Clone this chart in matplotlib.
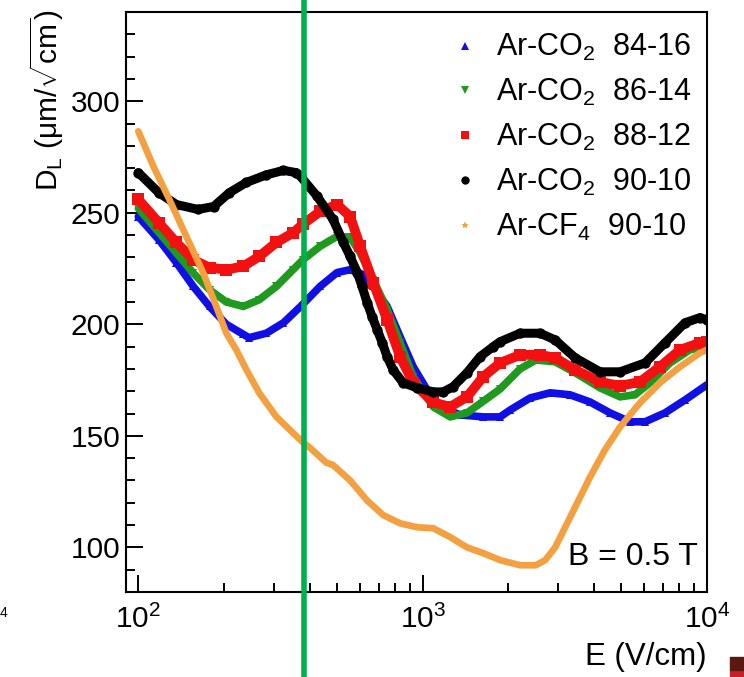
import matplotlib
matplotlib.use('Agg')
import matplotlib.pyplot as plt
from matplotlib.lines import Line2D
from matplotlib.patches import Rectangle
from matplotlib.ticker import MultipleLocator, LogLocator
import matplotlib.transforms as mtransforms

plt.rcParams['font.family'] = ['Liberation Sans', 'DejaVu Sans']
plt.rcParams['mathtext.fontset'] = 'custom'
plt.rcParams['mathtext.rm'] = 'Liberation Sans'
plt.rcParams['mathtext.it'] = 'Liberation Sans:italic'
plt.rcParams['mathtext.default'] = 'regular'

# Ar-CO2 84-16 (blue)
e_8416 = [100, 118, 136, 156, 178, 204, 234, 245, 282, 324, 372, 436, 500, 556, 618, 670, 750,
          833, 926, 1037, 1151, 1355, 1633, 1872, 2032, 2389, 2808, 3298, 3877, 4557, 5358,
          6056, 7118, 8369, 10000]
d_8416 = [248.3, 238, 227.7, 217, 208, 200, 195.5, 194, 196, 200.7, 208, 217, 223.2, 224.5,
          222.3, 217, 208, 194.4, 181, 170.6, 163, 159.4, 158.5, 158.5, 161.6, 167, 169.3,
          168.4, 165.2, 160.3, 156.3, 156.3, 160.3, 166.1, 172.9]

# Ar-CO2 86-14 (green)
e_8614 = [100, 136, 156, 178, 204, 234, 266, 306, 350, 380, 436, 500, 556, 603, 670, 750, 833,
          926, 1089, 1250, 1432, 1633, 1872, 2201, 2500, 2923, 3436, 4207, 4946, 5580, 6300,
          7413, 8710, 10000]
d_8614 = [252, 232, 223, 215.5, 210, 208, 211, 217, 224.5, 229, 235, 239.4, 239, 232, 220,
          206.6, 191.7, 176.5, 163, 158.5, 160.3, 165.5, 171, 180, 184, 183.2, 178.3, 171.5,
          167.5, 168.4, 173.8, 182.7, 188.6, 190]

# Ar-CO2 88-12 (red)
e_8812 = [100, 118, 136, 156, 178, 204, 234, 266, 306, 350, 380, 436, 500, 556, 603, 670, 750,
          833, 926, 1089, 1250, 1432, 1633, 1872, 2201, 2588, 2923, 3436, 4207, 4946, 5810,
          6833, 8044, 9447, 10000]
d_8812 = [256, 245.6, 236.7, 229, 225.4, 224.5, 226, 230.4, 236.7, 241, 245, 250.6, 253.7,
          248.3, 235, 218.7, 202, 185.5, 173.8, 165, 163, 167.5, 176.5, 182.7, 186.3, 186.3,
          185, 179.6, 174.2, 172.4, 174.2, 181, 188.6, 191.7, 192]

# Ar-CO2 90-10 (black)
e_9010 = [100, 118, 136, 162, 184, 209, 240, 282, 324, 359, 372, 426, 484, 526, 556, 589, 612,
          638, 664, 692, 721, 750, 787, 853, 957, 1089, 1180, 1279, 1432, 1592, 1771, 1872,
          2201, 2588, 2923, 3436, 4207, 4946, 6056, 7118, 8369, 9447, 10000]
d_9010 = [268, 259, 253.7, 251.5, 252.8, 259, 263.6, 267, 269, 268, 266.3, 257.3, 247, 236.7,
          230.4, 223.2, 217, 209.7, 203.4, 197.6, 191.7, 185.5, 179.6, 173.8, 171.5, 169.7,
          169.7, 172, 178.3, 185.5, 190, 192.2, 196, 196, 193, 185, 178.7, 178.7, 182.7,
          191.7, 200.7, 203, 202]

# Ar-CF4 90-10 (orange)
e_cf4 = [100, 113, 128.5, 147.5, 169, 188, 204, 221, 240, 266, 306, 350, 380, 402, 458, 484,
         556, 638, 726, 833, 957, 1089, 1250, 1432, 1633, 1872, 2201, 2500, 2698, 2923, 3170,
         3436, 3877, 4375, 4946, 5810, 6833, 8044, 9447, 10000]
d_cf4 = [286.5, 270.8, 256, 239.4, 223.2, 208, 196, 188.6, 179.6, 169.3, 158.5, 151.3, 147,
         144.6, 138, 136.9, 130, 121, 114.5, 110.8, 109, 108.6, 104.6, 100, 97.4, 94.3, 92, 92,
         94.3, 100, 109, 118, 131.5, 143.7, 154, 164.8, 173.8, 181, 187.2, 188.6]

series = [
    (e_8416, d_8416, '#1010e6', '^', 5.5, r'Ar-CO$_2$  84-16'),
    (e_8614, d_8614, '#1f9a1f', 'v', 5.5, r'Ar-CO$_2$  86-14'),
    (e_8812, d_8812, '#f21010', 's', 7.0, r'Ar-CO$_2$  88-12'),
    (e_9010, d_9010, '#000000', 'o', 6.5, r'Ar-CO$_2$  90-10'),
    (e_cf4, d_cf4, '#f5a040', '*', 4.8, r'Ar-CF$_4$  90-10'),
]

fig = plt.figure(figsize=(7.44, 6.77), dpi=100)
ax = fig.add_axes([126 / 744, 1 - 592 / 677, (707 - 126) / 744, (592 - 12) / 677])

handles = []
for e, d, col, mk, lw, lab in series:
    ax.plot(e, d, color=col, lw=lw, marker=mk, markersize=lw * 1.15, markeredgewidth=0,
            solid_capstyle='round', solid_joinstyle='round')
    handles.append(Line2D([], [], ls='none', marker=mk, color=col, markersize=6,
                          markeredgewidth=0, label=lab))

ax.set_xscale('log')
ax.set_xlim(90.5, 10000)
ax.set_ylim(80, 340)
ax.yaxis.set_major_locator(MultipleLocator(50))
ax.yaxis.set_minor_locator(MultipleLocator(10))
ax.xaxis.set_major_locator(LogLocator(base=10))
ax.xaxis.set_minor_locator(LogLocator(base=10, subs=range(2, 10)))

for sp in ax.spines.values():
    sp.set_linewidth(1.5)
ax.tick_params(which='both', direction='in', top=False, right=False, width=1.4,
               labelsize=21.5)
ax.tick_params(which='major', length=12)
ax.tick_params(which='minor', length=6.5)
ax.tick_params(axis='x', pad=9)
ax.tick_params(axis='y', pad=4)

ax.legend(handles=handles, loc='upper left', bbox_to_anchor=(441 / 744, 1 - 17 / 677),
          bbox_transform=fig.transFigure, frameon=False, fontsize=22,
          handlelength=0.6, handletextpad=0.7, labelspacing=0.45, borderpad=0)

ax.text(698 / 744, 1 - 557 / 677, 'B = 0.5 T', transform=fig.transFigure,
        ha='right', va='center', fontsize=23)

fig.text(47 / 744, 1 - 10 / 677, r'D$_{L}$ (μm/$\sqrt{cm}$)', rotation=90,
         ha='center', va='top', fontsize=21.5)
fig.text(707 / 744, 1 - 657 / 677, 'E (V/cm)', ha='right', va='center', fontsize=22.5)

# overlay elements from the slide
green_x = 381
trans = mtransforms.blended_transform_factory(ax.transData, fig.transFigure)
fig.add_artist(Line2D([green_x, green_x], [0, 1], transform=trans, color='#00b050', lw=4))
fig.text(0, 1 - 613 / 677, '4', ha='left', va='center', fontsize=10)
fig.add_artist(Rectangle((730 / 744, 0), 14 / 744, 7 / 677, transform=fig.transFigure,
                         color='#c8202a'))
fig.add_artist(Rectangle((730 / 744, 7 / 677), 14 / 744, 13 / 677, transform=fig.transFigure,
                         color='#5a1810'))

fig.savefig('out.png', dpi=100)
